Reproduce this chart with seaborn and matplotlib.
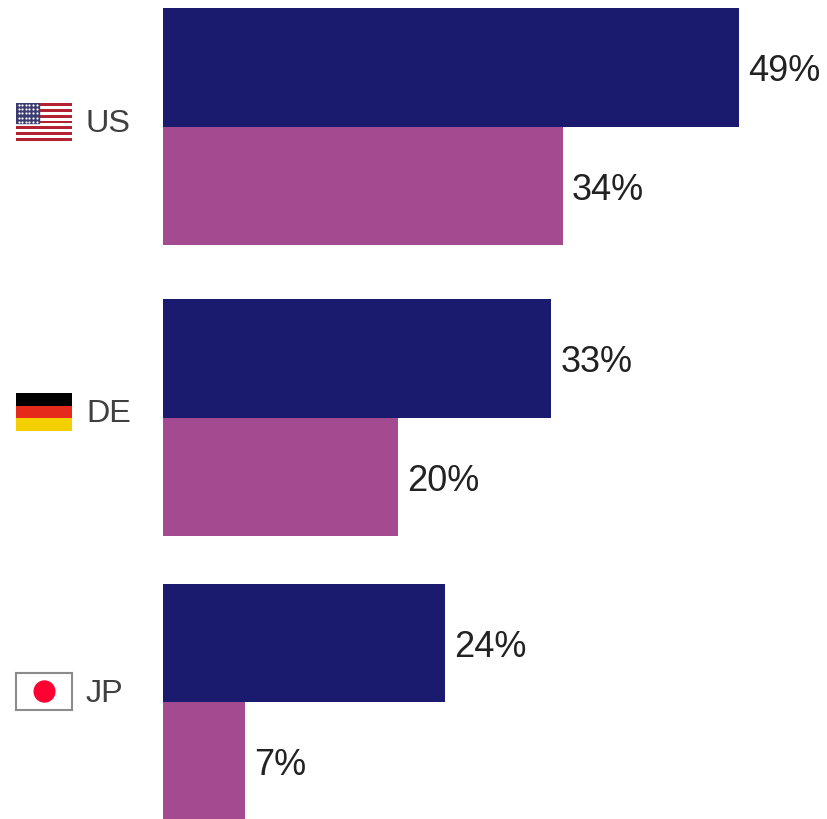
"""
Two-series horizontal bars per country, with small flags as row labels.
"""
import matplotlib
matplotlib.use("Agg")
import matplotlib.pyplot as plt
from matplotlib.colors import ListedColormap
from matplotlib.patches import Circle, Rectangle
import numpy as np
import pandas as pd
import seaborn as sns

countries = ["US", "DE", "JP"]
series = ["Series A", "Series B"]
series_a = [49, 33, 24]
series_b = [34, 20, 7]

sns.set_theme(style="white")
plt.rcParams["font.family"] = ["Liberation Sans", "DejaVu Sans"]

W, H = 828, 819
NAVY = "#1a1a6e"
PURPLE = "#a34a90"
PX_PER_UNIT = 11.76


def box(left, top, right, bottom):
    # pixel box, measured from the top left, to figure fractions
    return [left / W, 1 - bottom / H, (right - left) / W, (bottom - top) / H]


def flag_us(ax):
    stripes = np.array([[i % 2] for i in range(13)])
    ax.imshow(stripes, cmap=ListedColormap(["#b22234", "#ffffff"]),
              aspect="auto", extent=(0, 1, 0, 1), interpolation="nearest")
    ax.add_patch(Rectangle((0, 6 / 13), 0.4, 7 / 13, color="#3c3b6e", zorder=2))
    star_x, star_y = np.meshgrid(np.linspace(0.04, 0.36, 6), np.linspace(0.5, 0.96, 5))
    ax.scatter(star_x.ravel(), star_y.ravel(), s=2.5, color="white", linewidths=0, zorder=3)


def flag_de(ax):
    ax.imshow([[0], [1], [2]], cmap=ListedColormap(["#000000", "#e52a1c", "#f5d000"]),
              aspect="auto", extent=(0, 1, 0, 1), interpolation="nearest")


def flag_jp(ax):
    ax.set_facecolor("white")
    ax.add_patch(Circle((28.5, 18.5), 10.5, color="#ff0033"))
    ax.set_xlim(0, 57)
    ax.set_ylim(0, 37)
    ax.set_axis_on()
    ax.set_xticks([])
    ax.set_yticks([])
    for spine in ax.spines.values():
        spine.set_visible(True)
        spine.set_color("#8c8c8c")
        spine.set_linewidth(1.5)


fig = plt.figure(figsize=(W / 100, H / 100), dpi=100)
fig.patch.set_facecolor("white")

bar_rows = [(8, 245), (299, 536), (584, 820)]
flag_rows = [(103, 141), (393, 431), (673, 710)]
flag_painters = [flag_us, flag_de, flag_jp]
text_rows = [124.5, 414.5, 694.5]

for i, name in enumerate(countries):
    df = pd.DataFrame({"series": series, "value": [series_a[i], series_b[i]]})
    top, bottom = bar_rows[i]
    ax = fig.add_axes(box(163, top, W, bottom))
    sns.barplot(data=df, y="series", x="value", hue="series", order=series, hue_order=series,
                palette=[NAVY, PURPLE], saturation=1, width=1, dodge=False, legend=False, ax=ax,
                edgecolor="none", linewidth=0)
    ax.set_xlim(0, (W - 163) / PX_PER_UNIT)
    ax.set_ylim(1.5, -0.5)
    for container in ax.containers:
        for label in ax.bar_label(container, fmt="%g%%", padding=6.6, fontsize=26, color="#222222"):
            # labels sit a little under the bar centre in the reference
            label.xyann = (label.xyann[0], -3.1)
    ax.axis("off")

    flag_top, flag_bottom = flag_rows[i]
    flag_ax = fig.add_axes(box(16.5, flag_top, 72.5, flag_bottom))
    flag_ax.axis("off")
    flag_painters[i](flag_ax)

    fig.text(86 / W, 1 - text_rows[i] / H, name, fontsize=23.3, color="#404040",
             ha="left", va="center")

fig.savefig("out.png", dpi=100)
